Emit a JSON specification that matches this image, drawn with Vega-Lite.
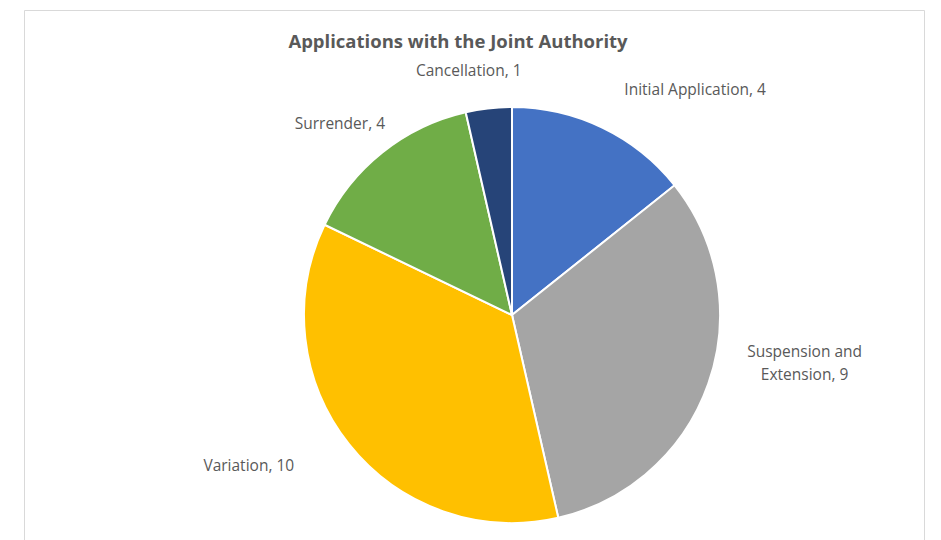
{
  "$schema": "https://vega.github.io/schema/vega-lite/v6.json",
  "width": 941,
  "height": 540,
  "autosize": {"type": "fit", "contains": "padding"},
  "padding": {"left": 24, "top": 10, "right": 17, "bottom": 0},
  "background": "white",
  "view": {"stroke": "#d9d9d9", "strokeWidth": 1},
  "title": {
    "text": "Applications with the Joint Authority",
    "font": "Open Sans",
    "fontSize": 18.5,
    "fontWeight": "bold",
    "color": "#595959",
    "anchor": "middle",
    "dx": -16,
    "offset": -41
  },
  "data": {
    "values": [
      {"Category": "Initial Application", "Count": 4, "Label": "Initial Application, 4"},
      {"Category": "Suspension and Extension", "Count": 9, "Label": "Suspension and\nExtension, 9"},
      {"Category": "Variation", "Count": 10, "Label": "Variation, 10"},
      {"Category": "Surrender", "Count": 4, "Label": "Surrender, 4"},
      {"Category": "Cancellation", "Count": 1, "Label": "Cancellation, 1"}
    ]
  },
  "transform": [
    {"stack": "Count", "groupby": [], "as": ["t0", "t1"]},
    {"calculate": "(datum.t0 + datum.t1) / 2", "as": "mid"}
  ],
  "layer": [
    {
      "mark": {"type": "arc", "outerRadius": 208, "stroke": "white", "strokeWidth": 2, "x": 488, "y": 305},
      "encoding": {
        "theta": {"field": "t0", "type": "quantitative", "scale": {"domain": [0, 28], "nice": false}},
        "theta2": {"field": "t1"},
        "color": {
          "field": "Category",
          "type": "nominal",
          "scale": {
            "domain": ["Initial Application", "Suspension and Extension", "Variation", "Surrender", "Cancellation"],
            "range": ["#4472C4", "#A5A5A5", "#FFC000", "#70AD47", "#264478"]
          },
          "legend": null
        }
      }
    },
    {
      "transform": [{"filter": "datum.Category == 'Initial Application'"}],
      "mark": {"type": "text", "font": "Open Sans", "fontSize": 15.5, "color": "#595959", "align": "left", "baseline": "middle", "radius": 252, "dx": 3, "dy": 2, "x": 488, "y": 305},
      "encoding": {
        "theta": {"field": "mid", "type": "quantitative", "scale": {"domain": [0, 28], "nice": false}},
        "text": {"field": "Label"}
      }
    },
    {
      "transform": [{"filter": "datum.Category == 'Suspension and Extension'"}],
      "mark": {"type": "text", "font": "Open Sans", "fontSize": 15.5, "color": "#595959", "align": "center", "baseline": "middle", "lineBreak": "\n", "lineHeight": 23, "radius": 310, "dy": -65, "x": 488, "y": 305},
      "encoding": {
        "theta": {"field": "mid", "type": "quantitative", "scale": {"domain": [0, 28], "nice": false}},
        "text": {"field": "Label"}
      }
    },
    {
      "transform": [{"filter": "datum.Category == 'Variation'"}],
      "mark": {"type": "text", "font": "Open Sans", "fontSize": 15.5, "color": "#595959", "align": "right", "baseline": "middle", "radius": 262, "dx": -13, "dy": -12, "x": 488, "y": 305},
      "encoding": {
        "theta": {"field": "mid", "type": "quantitative", "scale": {"domain": [0, 28], "nice": false}},
        "text": {"field": "Label"}
      }
    },
    {
      "transform": [{"filter": "datum.Category == 'Surrender' || datum.Category == 'Cancellation'"}],
      "mark": {"type": "text", "font": "Open Sans", "fontSize": 15.5, "color": "#595959", "align": "center", "baseline": "middle", "radius": 252, "dx": -15, "dy": 6, "x": 488, "y": 305},
      "encoding": {
        "theta": {"field": "mid", "type": "quantitative", "scale": {"domain": [0, 28], "nice": false}},
        "text": {"field": "Label"}
      }
    }
  ],
  "config": {
    "view": {"stroke": "#d9d9d9", "strokeWidth": 1}
  }
}
